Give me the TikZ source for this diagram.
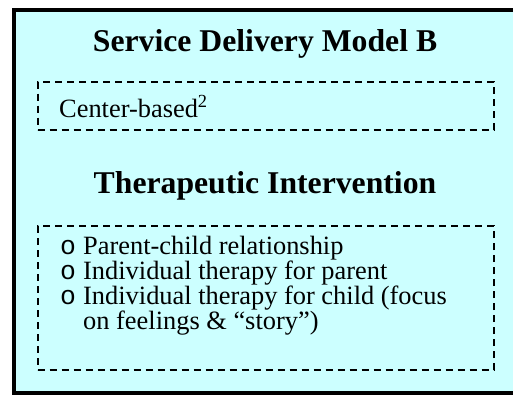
\documentclass[tikz,border=0pt]{standalone}
\usepackage{fontspec}
\setmainfont{Liberation Serif}
\newfontfamily\bulletfont{Liberation Mono}
\definecolor{panelcyan}{HTML}{CCFFFF}
\newcommand{\bulitem}{\makebox[23pt][l]{\bulletfont o}}
\begin{document}
\begin{tikzpicture}[x=1pt,y=-1pt,
  titletext/.style={font=\fontsize{31.7}{36}\selectfont\bfseries, inner sep=0, anchor=base},
  bodytext/.style={font=\fontsize{26.4}{30}\selectfont, inner sep=0, anchor=base west},
  dashbox/.style={draw, line width=2pt, dash pattern=on 7pt off 5pt, inner sep=0, outer sep=0, anchor=north west, minimum width=456pt}]
\useasboundingbox (0,0) rectangle (513,394);
\begin{scope}
\clip (0,0) rectangle (513,394);
\fill[panelcyan] (13.5,9.5) rectangle (530,392.5);
\draw[line width=4pt] (530,9.5) -- (13.5,9.5) -- (13.5,392.5) -- (530,392.5);
\end{scope}
\node[dashbox, minimum height=48pt] (locbox) at (37.5,81.5) {};
\node[dashbox, minimum height=144pt] (listbox) at (37.5,226) {};
\node[titletext] (title) at (265,51) {Service Delivery Model B};
\node[bodytext] (loc) at (59,117) {Center-based\textsuperscript{2}};
\node[titletext] (ther) at (265,193) {Therapeutic Intervention};
\node[bodytext] (item1) at (60,254) {\bulitem Parent-child relationship};
\node[bodytext] (item2) at (60,279) {\bulitem Individual therapy for parent};
\node[bodytext] (item3) at (60,304) {\bulitem Individual therapy for child (focus};
\node[bodytext] (item3b) at (83,329) {on feelings \& “story”)};
\end{tikzpicture}
\end{document}
